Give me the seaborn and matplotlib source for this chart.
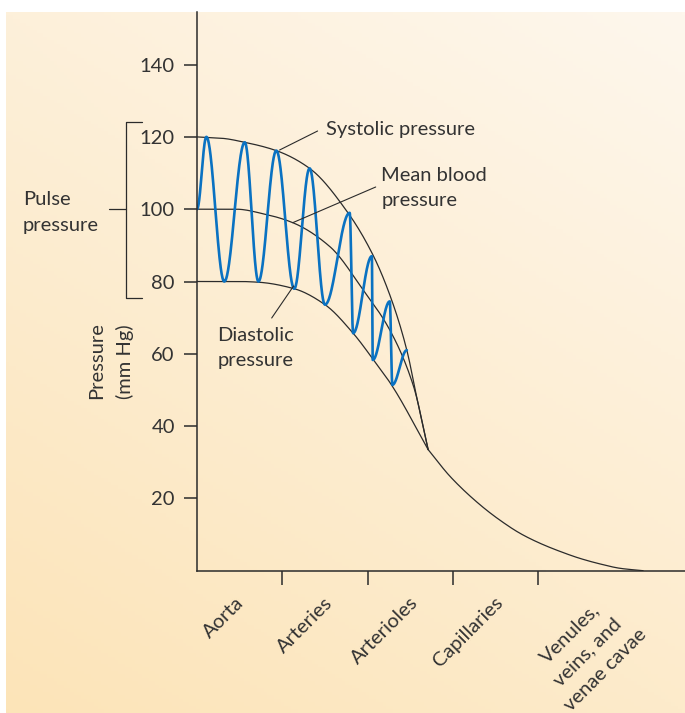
import numpy as np
import matplotlib
matplotlib.use("Agg")
import matplotlib.pyplot as plt
import matplotlib.transforms as mtransforms
import seaborn as sns

# Vessel segments along the x axis (category boundaries at 1..4)
sites = ["Aorta", "Arteries", "Arterioles", "Capillaries", "Venules,\nveins, and\nvenae cavae"]
site_bounds = [1, 2, 3, 4]
site_mids = [0.5, 1.5, 2.5, 3.5, 4.5]
y_ticks = [20, 40, 60, 80, 100, 120, 140]

# Envelope curves (x in segment units, y in mm Hg)
sys_x = [0, 0.3, 0.56, 0.93, 1.32, 1.77, 2.07, 2.28, 2.46, 2.58, 2.71]
sys_y = [120, 119.6, 118.5, 116.2, 111.3, 99, 87, 75, 61, 47.5, 33.5]
mean_x = [0, 0.46, 0.8, 1.12, 1.56, 1.95, 2.26, 2.54, 2.71]
mean_y = [100, 100, 98.6, 96.3, 89.6, 77.6, 66.6, 50.9, 33.5]
dia_x = [0, 0.5, 0.72, 1.14, 1.5, 1.83, 2.07, 2.28, 2.71]
dia_y = [80, 80, 79.8, 78, 73.6, 65.7, 58.3, 51.4, 33.5]
tail_x = [2.71, 2.97, 3.32, 3.55, 3.79, 4.02, 4.26, 4.49, 4.72, 4.96, 5.23]
tail_y = [33.5, 26, 18.2, 14.0, 10.3, 7.6, 5.3, 3.4, 1.9, 0.66, 0]

# Pressure wave: turning points (peaks / troughs)
wave_x = [0, 0.11, 0.32, 0.56, 0.72, 0.93, 1.14, 1.32, 1.50, 1.79, 1.83, 2.05, 2.06, 2.26, 2.29, 2.46]
wave_y = [100, 120, 80, 118.5, 80, 116.2, 78, 111.3, 73.6, 99, 65.7, 87, 58.3, 74.5, 51.4, 61]


def pchip(xk, yk, n=200):
    xk = np.asarray(xk, float)
    yk = np.asarray(yk, float)
    h = np.diff(xk)
    d = np.diff(yk) / h
    m = np.zeros_like(yk)
    m[0], m[-1] = d[0], d[-1]
    for i in range(1, len(xk) - 1):
        if d[i - 1] * d[i] > 0:
            w1 = 2 * h[i] + h[i - 1]
            w2 = h[i] + 2 * h[i - 1]
            m[i] = (w1 + w2) / (w1 / d[i - 1] + w2 / d[i])
    xs = np.linspace(xk[0], xk[-1], n)
    idx = np.clip(np.searchsorted(xk, xs) - 1, 0, len(h) - 1)
    t = (xs - xk[idx]) / h[idx]
    h00 = 2 * t**3 - 3 * t**2 + 1
    h10 = t**3 - 2 * t**2 + t
    h01 = -2 * t**3 + 3 * t**2
    h11 = t**3 - t**2
    ys = h00 * yk[idx] + h10 * h[idx] * m[idx] + h01 * yk[idx + 1] + h11 * h[idx] * m[idx + 1]
    return xs, ys


def wave(xk, yk, n=60):
    # half-cosine between successive turning points
    xs, ys = [], []
    for i in range(len(xk) - 1):
        t = np.linspace(0, 1, n, endpoint=False)
        xs.append(xk[i] + (xk[i + 1] - xk[i]) * t)
        ys.append(yk[i] + (yk[i + 1] - yk[i]) * (1 - np.cos(np.pi * t)) / 2)
    xs.append([xk[-1]])
    ys.append([yk[-1]])
    return np.concatenate(xs), np.concatenate(ys)


sns.set_theme(style="white")
plt.rcParams["font.family"] = ["Lato", "DejaVu Sans"]
ink = "#2b2b2b"
txt = "#333333"
fs = 14.5
ls = 1.68

W, H = 685, 713
fig = plt.figure(figsize=(W / 100, H / 100), dpi=100)
fig.patch.set_facecolor("white")

# peach gradient panel
bg = fig.add_axes([6 / W, 0, 1 - 6 / W, 1 - 12 / H])
gy, gx = np.mgrid[0:1:200j, 0:1:200j]
tr = np.array([254, 247, 237]) / 255
tl = np.array([253, 240, 218]) / 255
br = np.array([253, 235, 203]) / 255
grad = tr + (1 - gx)[..., None] * (tl - tr) + gy[..., None] * (br - tr)
bg.imshow(np.clip(grad, 0, 1), aspect="auto", extent=[0, 1, 0, 1], origin="upper")
bg.set_axis_off()

px = 85.3            # pixels per segment
py = 72.3 / 20       # pixels per mm Hg
x0, y0 = 197, 570.7
ax = fig.add_axes([x0 / W, (H - y0) / H, 1 - x0 / W, (y0 - 12) / H])
ax.patch.set_alpha(0)
ax.set_xlim(0, (W - x0) / px)
ax.set_ylim(0, (y0 - 12) / py)

for xs_, ys_ in [pchip(sys_x, sys_y), pchip(mean_x, mean_y), pchip(dia_x, dia_y), pchip(tail_x, tail_y)]:
    sns.lineplot(x=xs_, y=ys_, ax=ax, color=ink, lw=0.9, sort=False, estimator=None)

wx, wy = wave(wave_x, wave_y)
sns.lineplot(x=wx, y=wy, ax=ax, color="#0a72c2", lw=1.9, sort=False, estimator=None)

for s in ["top", "right"]:
    ax.spines[s].set_visible(False)
for s in ["left", "bottom"]:
    ax.spines[s].set_color(ink)
    ax.spines[s].set_linewidth(1.1)

ax.set_yticks(y_ticks)
ax.set_yticklabels([str(v) for v in y_ticks])
ax.tick_params(axis="y", length=9.5, width=1.1, color=ink, pad=6.5, labelsize=fs, labelcolor=txt, left=True)

ax.set_xticks(site_bounds)
ax.set_xticklabels([])
ax.set_xticks(site_mids, minor=True)
ax.set_xticklabels(sites, minor=True)
ax.tick_params(axis="x", which="major", length=10, width=1.1, color=ink, bottom=True)
ax.tick_params(axis="x", which="minor", length=0, pad=21, labelsize=fs, labelcolor=txt, bottom=True)
shifts = [(1, 0), (5, 0), (5, 0), (5, 0), (45, -14)]
for lab, (dx, dy) in zip(ax.get_xticklabels(minor=True), shifts):
    lab.set_rotation(45)
    lab.set_rotation_mode("anchor")
    lab.set_ha("right")
    lab.set_va("center")
    lab.set_multialignment("center")
    lab.set_linespacing(ls * 0.96)
    lab.set_transform(lab.get_transform() + mtransforms.ScaledTranslation(dx / 100, dy / 100, fig.dpi_scale_trans))

ax.grid(False)


def data(xp, yp):
    return (xp - x0) / px, (y0 - yp) / py


leader = dict(arrowstyle="-", color=ink, lw=0.8, shrinkA=0, shrinkB=0)
ax.annotate("", xy=data(279.6, 150), xytext=data(317.6, 131), arrowprops=leader)
ax.annotate("", xy=data(292.7, 222.7), xytext=data(375.7, 187), arrowprops=leader)
ax.annotate("", xy=data(293.6, 286), xytext=data(271.7, 318), arrowprops=leader)

ax.text(*data(325.5, 129.5), "Systolic pressure", fontsize=fs, color=txt, va="center", ha="left")
ax.text(*data(381.4, 188), "Mean blood\npressure", fontsize=fs, color=txt, va="center", ha="left",
        linespacing=ls * 0.97)
ax.text(*data(217.6, 348), "Diastolic\npressure", fontsize=fs, color=txt, va="center", ha="left",
        linespacing=ls * 0.92)

# pulse pressure bracket
bx, bx2, bx0 = (125.8 - x0) / px, (142 - x0) / px, (109 - x0) / px
yt, yb = (y0 - 121.8) / py, (y0 - 297.7) / py
ax.plot([bx2, bx, bx, bx2], [yt, yt, yb, yb], color=ink, lw=0.9, clip_on=False)
ax.plot([bx0, bx], [100, 100], color=ink, lw=0.9, clip_on=False)
ax.text(*data(22.7, 212.5), "Pulse\npressure", fontsize=fs, color=txt, ha="left", va="center",
        linespacing=ls * 0.95, clip_on=False)
ax.text(*data(111, 361), "Pressure\n(mm Hg)", fontsize=fs, color=txt, ha="center", va="center",
        rotation=90, multialignment="left", linespacing=ls, clip_on=False)

fig.savefig("out.png", dpi=100)
